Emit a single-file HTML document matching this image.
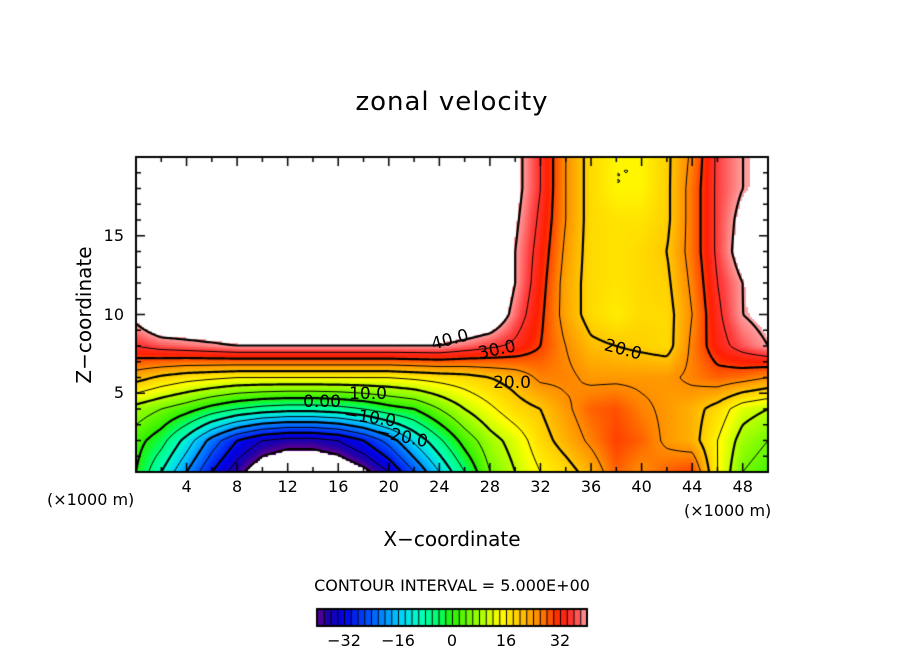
<!DOCTYPE html>
<html><head><meta charset="utf-8">
<style>
body{margin:0;background:#fff;width:904px;height:654px;overflow:hidden;position:relative;font-family:"DejaVu Sans","Liberation Sans",sans-serif;}
.t{position:absolute;color:#000;white-space:nowrap;}
canvas{position:absolute;left:0;top:0;}
</style></head>
<body>
<canvas id="c" width="904" height="654"></canvas>
<div class="t" style="left:0;width:904px;text-align:center;top:87px;font-size:26px;letter-spacing:1px;">zonal velocity</div>
<div class="t" style="left:84px;top:315px;font-size:20px;transform:translate(-50%,-50%) rotate(-90deg);">Z−coordinate</div>
<div class="t" style="left:0;width:904px;text-align:center;top:527px;font-size:20px;">X−coordinate</div>
<div class="t" style="left:47px;top:490px;font-size:16px;">(×1000 m)</div>
<div class="t" style="left:684px;top:501px;font-size:16px;">(×1000 m)</div>
<div class="t" style="left:0;width:904px;text-align:center;top:576px;font-size:16px;">CONTOUR INTERVAL = 5.000E+00</div>
<div id="labels"></div>
<script>
const xs=[0,2,4,6,8,10,12,14,16,18,20,22,24,26,28,30,32,34,36,38,40,42,44,46,48,50];
const zs=[0,2,4,6,8,10,12,14,16,18,20];
const row0=[0,-10,-20,-30,-38,-45,-48,-48,-46,-42,-35,-25,-15,-5,5,10,15,18,22,28,25,28,30,15,5,2];
const row2=[2,-3,-12,-22,-30,-35,-37,-37,-35,-30,-23,-14,-6,2,8,12,18,22,26,30,28,24,22,15,8,5];
const row4=[8,5,2,-2,-5,-7,-8,-8,-7,-5,-2,0,5,10,14,18,20,24,28,29,26,24,22,18,12,10];
const row6=[22,19,17,16,15,15,15,15,15,15,15,16,17,18,20,22,26,26,24,24,24,24,26,28,27,25];
const row8=[35,37,38,39,40,40,40,40,40,40,40,40,40,38,36,34,30,25,21,20,19,18,26,33,37,40];
const row10=[42,48,48,48,48,48,48,48,48,48,48,48,48,48,46,38,31,23,18,16,18,18,25,34,40,42];
const row12=[50,50,50,50,50,50,50,50,50,50,50,50,50,50,48,40,32,23,18,17,18,19,26,35,40,46];
const row14=[50,50,50,50,50,50,50,50,50,50,50,50,50,50,48,40,33,24,18,17,18,20,27,36,43,46];
const row16=[50,50,50,50,50,50,50,50,50,50,50,50,50,50,48,41,34,25,18,17,17,19,27,36,42,44];
const row18=[50,50,50,50,50,50,50,50,50,50,50,50,50,50,48,42,35,25,18,15,15,19,27,36,40,42];
const row20=[50,50,50,50,50,50,50,50,50,50,50,50,50,50,48,42,35,25,18,15,15,19,26,36,40,42];
const rows=[row0,row2,row4,row6,row8,row10,row12,row14,row16,row18,row20];
const xTicks=[4,8,12,16,20,24,28,32,36,40,44,48];
const zTicks=[5,10,15];
const cbTicks=[-32,-16,0,16,32];

const L=136,R=768,T=157,B=472;
const X=v=>L+(v-0)/(50-0)*(R-L);
const Z=v=>B-(v-0)/(20-0)*(B-T);
const stops=[[-40,[100,0,140]],[-37,[30,0,170]],[-32,[0,0,230]],[-24,[0,90,255]],[-16,[0,200,255]],[-10,[0,255,200]],[-4,[0,255,100]],[0,[40,240,0]],[8,[160,255,0]],[14,[255,255,0]],[20,[255,200,0]],[26,[255,130,0]],[32,[255,30,0]],[36,[255,60,60]],[40,[255,160,160]]];
function col(v){
  if(v>40.5||v<-40.5) return null;
  if(v<=stops[0][0]) return stops[0][1];
  for(let i=1;i<stops.length;i++){ if(v<=stops[i][0]){const a=stops[i-1],b=stops[i];const t=(v-a[0])/(b[0]-a[0]);return a[1].map((c,k)=>Math.round(c+(b[1][k]-c)*t));}}
  return stops[stops.length-1][1];
}
function val(x,z){
  let i=Math.min(xs.length-2,Math.max(0,Math.floor(x/2))),j=Math.min(zs.length-2,Math.max(0,Math.floor(z/2)));
  const tx=(x-xs[i])/2,tz=(z-zs[j])/2;
  const a=rows[j][i],b=rows[j][i+1],c=rows[j+1][i],d=rows[j+1][i+1];
  return a*(1-tx)*(1-tz)+b*tx*(1-tz)+c*(1-tx)*tz+d*tx*tz;
}
const cv=document.getElementById('c'),ctx=cv.getContext('2d');
const S=2;const nx=Math.ceil((R-L)/S),nz=Math.ceil((B-T)/S);
const g=[];
for(let j=0;j<=nz;j++){g.push([]);for(let i=0;i<=nx;i++){const px=L+i*S,pz=T+j*S;g[j].push(val((px-L)/(R-L)*50,(B-pz)/(B-T)*20));}}
for(let j=0;j<nz;j++)for(let i=0;i<nx;i++){const v=(g[j][i]+g[j][i+1]+g[j+1][i]+g[j+1][i+1])/4;const c=col(v);if(c){ctx.fillStyle=`rgb(${c})`;ctx.fillRect(L+i*S,T+j*S,S,S);}}
ctx.save();ctx.beginPath();ctx.rect(L,T,R-L,B-T);ctx.clip();
for(let lev=-40;lev<=40;lev+=5){
  ctx.beginPath();
  for(let j=0;j<nz;j++)for(let i=0;i<nx;i++){
    const p=[[i,j,g[j][i]],[i+1,j,g[j][i+1]],[i+1,j+1,g[j+1][i+1]],[i,j+1,g[j+1][i]]];
    const pts=[];
    for(let k=0;k<4;k++){const a=p[k],b=p[(k+1)%4];if((a[2]<lev)!==(b[2]<lev)){const t=(lev-a[2])/(b[2]-a[2]);pts.push([L+(a[0]+(b[0]-a[0])*t)*S,T+(a[1]+(b[1]-a[1])*t)*S]);}}
    for(let k=0;k+1<pts.length;k+=2){ctx.moveTo(pts[k][0],pts[k][1]);ctx.lineTo(pts[k+1][0],pts[k+1][1]);}
  }
  ctx.lineWidth=(lev%10===0)?2.2:1;ctx.strokeStyle='#000';
  ctx.setLineDash(lev<0?[5,4]:[]);ctx.stroke();
}
ctx.restore();ctx.setLineDash([]);
ctx.strokeStyle='#000';ctx.lineWidth=2;ctx.strokeRect(L,T,R-L,B-T);ctx.lineWidth=1.5;
for(let v=2;v<50;v+=2){const x=X(v),len=(v%4===0)?9:5;ctx.beginPath();ctx.moveTo(x,B);ctx.lineTo(x,B-len);ctx.moveTo(x,T);ctx.lineTo(x,T+len);ctx.stroke();}
for(let v=1;v<20;v++){const y=Z(v),len=(v%5===0)?9:5;ctx.beginPath();ctx.moveTo(L,y);ctx.lineTo(L+len,y);ctx.moveTo(R,y);ctx.lineTo(R-len,y);ctx.stroke();}
const cbL=317,cbR=587,cbT=609,cbB=626;const CB=v=>cbL+(v+40)/80*(cbR-cbL);
for(let v=-40;v<40;v+=2){const c=col(v+1);ctx.fillStyle=`rgb(${c})`;ctx.fillRect(CB(v),cbT,CB(v+2)-CB(v)+0.5,cbB-cbT);ctx.fillStyle='#000';ctx.fillRect(CB(v),cbT,1,cbB-cbT);}
ctx.lineWidth=2;ctx.strokeRect(cbL,cbT,cbR-cbL,cbB-cbT);
const lab=document.getElementById('labels');
function addLabel(txt,x,y,name,size){const d=document.createElement('div');d.className='t';d.textContent=txt;d.style.left=x+'px';d.style.top=y+'px';d.style.fontSize=size+'px';d.style.transform='translate(-50%,0)';


lab.appendChild(d);return d;}
xTicks.forEach(v=>addLabel(String(v),X(v),477,'x-tick-label',16));
zTicks.forEach(v=>{const d=addLabel(String(v),L-12,Z(v)-10,'y-tick-label',16);d.style.transform='translate(-100%,0)';});
cbTicks.forEach(v=>addLabel(String(v).replace('-','−'),CB(v),631,'colorbar-tick-label',16));
[['40.0',450,340,-15],['30.0',497,350,-12],['20.0',512,383,0],['10.0',368,394,0],['0.00',322,402,0],['−10.0',370,418,8],['−20.0',402,437,12],['20.0',623,350,15]].forEach(a=>{const d=addLabel(a[0],a[1],a[2]-10,'contour-label',17);d.style.transform=`translate(-50%,0) rotate(${a[3]}deg)`;});
</script>
</body></html>
